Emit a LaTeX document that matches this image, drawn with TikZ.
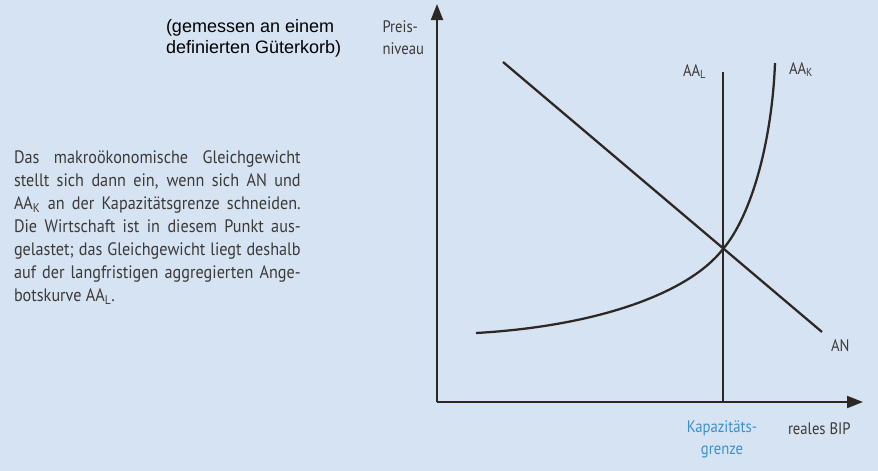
\documentclass[tikz,border=0pt]{standalone}
\usepackage{fontspec}
\usepackage{xcolor}
\usepackage{tikz}
\usetikzlibrary{arrows.meta}
\setmainfont{Liberation Sans}
\newfontfamily\condfont[FakeStretch=0.88]{PT Sans}
\newfontfamily\narrowfont[FakeStretch=0.90]{PT Sans}
\definecolor{bgblue}{HTML}{D6E3F3}
\definecolor{inkgray}{HTML}{3C3A38}
\definecolor{curvebrown}{HTML}{2E2824}
\definecolor{capblue}{HTML}{3F8FCB}
\newcommand{\jline}[1]{\hbox to 215pt{#1}}

\begin{document}
\begin{tikzpicture}[x=0.75pt, y=-0.75pt, line width=1.5pt,
  every node/.style={inner sep=0pt, text=inkgray},
  cond/.style={font=\condfont\fontsize{12.5}{16.5}\selectfont},
  axis/.style={curvebrown, -{Triangle[length=12pt,width=9pt]}},
  curve/.style={curvebrown, line width=1.7pt}]

% ---------------- background ------------------------------------------------
\fill[bgblue] (0,0) rectangle (878,471);
\useasboundingbox (0,0) rectangle (878,471);

% ---------------- axes ------------------------------------------------------
\coordinate (O) at (437,402);
\coordinate (ytip) at (437,4);
\coordinate (xtip) at (863,402);
\draw[axis] (O) -- (ytip);
\draw[axis] (O) -- (xtip);

% ---------------- curves ----------------------------------------------------
\coordinate (E) at (723,249);
\coordinate (ALtop) at (723,72);
\coordinate (ALfoot) at (723,402);
\coordinate (ANtop) at (503,62);
\coordinate (ANend) at (822,332);
\coordinate (AKstart) at (476,333);
\coordinate (AKtop) at (775,63);

\draw[curve] (ALfoot) -- (ALtop);
\draw[curve] (ANtop) -- (ANend);
\draw[curve] (AKstart) .. controls (600,326) and (690,292) .. (E)
  .. controls (752,215) and (772,140) .. (AKtop);

% ---------------- labels ----------------------------------------------------
\node[cond, anchor=base west] (lAL) at (682,76) {AA\textsubscript{L}};
\node[cond, anchor=base west] (lAK) at (788,74) {AA\textsubscript{K}};
\node[cond, anchor=base west] (lAN) at (830,351) {AN};
\node[cond, anchor=north east, align=left] (lP) at (425,20) {Preis-\\niveau};
\node[cond, anchor=base west] (lX) at (787,434) {reales BIP};
\node[cond, anchor=north, align=center, text=capblue] (lKap) at (722,420)
  {Kapazitäts-\\grenze};
\node[anchor=north west, align=left, text=black,
  font=\fontsize{13.5}{16}\selectfont] (lG) at (165,18)
  {(gemessen an einem\\definierten Güterkorb)};

% ---------------- explanation -----------------------------------------------
\node[font=\narrowfont\fontsize{13.5}{17.2}\selectfont, anchor=north west,
  align=left] (txt) at (13,150)
  {\jline{Das makroökonomische Gleichgewicht}\\
   \jline{stellt sich dann ein, wenn sich AN und}\\
   \jline{AA\textsubscript{K} an der Kapazitätsgrenze schneiden.}\\
   \jline{Die Wirtschaft ist in diesem Punkt aus-}\\
   \jline{gelastet; das Gleichgewicht liegt deshalb}\\
   \jline{auf der langfristigen aggregierten Ange-}\\
   botskurve AA\textsubscript{L}.};

\end{tikzpicture}
\end{document}
